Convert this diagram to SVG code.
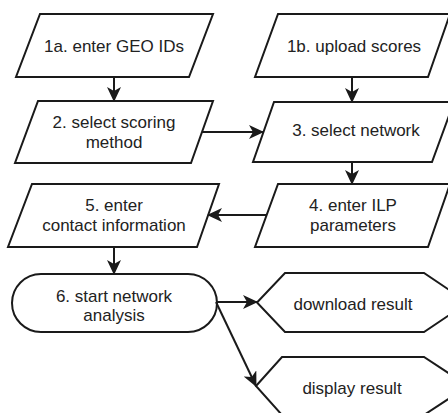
<svg xmlns="http://www.w3.org/2000/svg" width="448" height="413" viewBox="0 0 448 413">
<style>
.s{fill:#fff;stroke:#1a1a1a;stroke-width:2;stroke-linejoin:miter}
.t{font-family:"Liberation Sans",Arial,sans-serif;font-size:17px;fill:#222;text-anchor:middle}
.c{fill:none;stroke:#1a1a1a;stroke-width:2}
</style>
<defs>
<marker id="a" markerUnits="userSpaceOnUse" markerWidth="16" markerHeight="14" refX="14" refY="7" orient="auto">
<path d="M0,0 L15,7 L0,14 L4,7 Z" fill="#1a1a1a"/>
</marker>
</defs>
<rect width="448" height="413" fill="#fff"/>
<g id="n1a"><polygon class="s" points="40,14 213,14 189,77 16,77"/><text class="t" x="114" y="52">1a. enter GEO IDs</text></g>
<g id="n1b"><polygon class="s" points="278,14 450,14 428,77 255,77"/><text class="t" x="354" y="52">1b. upload scores</text></g>
<g id="n2"><polygon class="s" points="38,101 213,101 191,163 15,163"/><text class="t" x="114" y="128">2. select scoring</text><text class="t" x="114" y="148">method</text></g>
<g id="n3"><polygon class="s" points="274,102 454,102 432,162 253,162"/><text class="t" x="356" y="136">3. select network</text></g>
<g id="n4"><polygon class="s" points="278,184 450,184 428,247 255,247"/><text class="t" x="353" y="211">4. enter ILP</text><text class="t" x="353" y="231">parameters</text></g>
<g id="n5"><polygon class="s" points="32,184 219,184 197,247 8,247"/><text class="t" x="114" y="211">5. enter</text><text class="t" x="114" y="231">contact information</text></g>
<g id="n6"><rect class="s" x="12" y="274" width="205" height="58" rx="29"/><text class="t" x="114" y="302">6. start network</text><text class="t" x="114" y="321">analysis</text></g>
<g id="ndl"><polygon class="s" points="257,302.5 285,273 424,273 468,302.5 424,332 285,332"/><text class="t" x="353" y="310">download result</text></g>
<g id="ndp"><polygon class="s" points="256,386 282,357 424,357 468,386 424,415 282,415"/><text class="t" x="352" y="394">display result</text></g>
<g id="connectors">
<line class="c" x1="114" y1="77" x2="114" y2="101" marker-end="url(#a)"/>
<line class="c" x1="352" y1="77" x2="352" y2="102" marker-end="url(#a)"/>
<line class="c" x1="352" y1="162" x2="352" y2="184" marker-end="url(#a)"/>
<line class="c" x1="202" y1="132" x2="263" y2="132" marker-end="url(#a)"/>
<line class="c" x1="266" y1="215" x2="208" y2="215" marker-end="url(#a)"/>
<line class="c" x1="114" y1="247" x2="114" y2="274" marker-end="url(#a)"/>
<line class="c" x1="216" y1="302" x2="257" y2="302" marker-end="url(#a)"/>
<line class="c" x1="216" y1="302" x2="256" y2="386" marker-end="url(#a)"/>
</g>
</svg>
